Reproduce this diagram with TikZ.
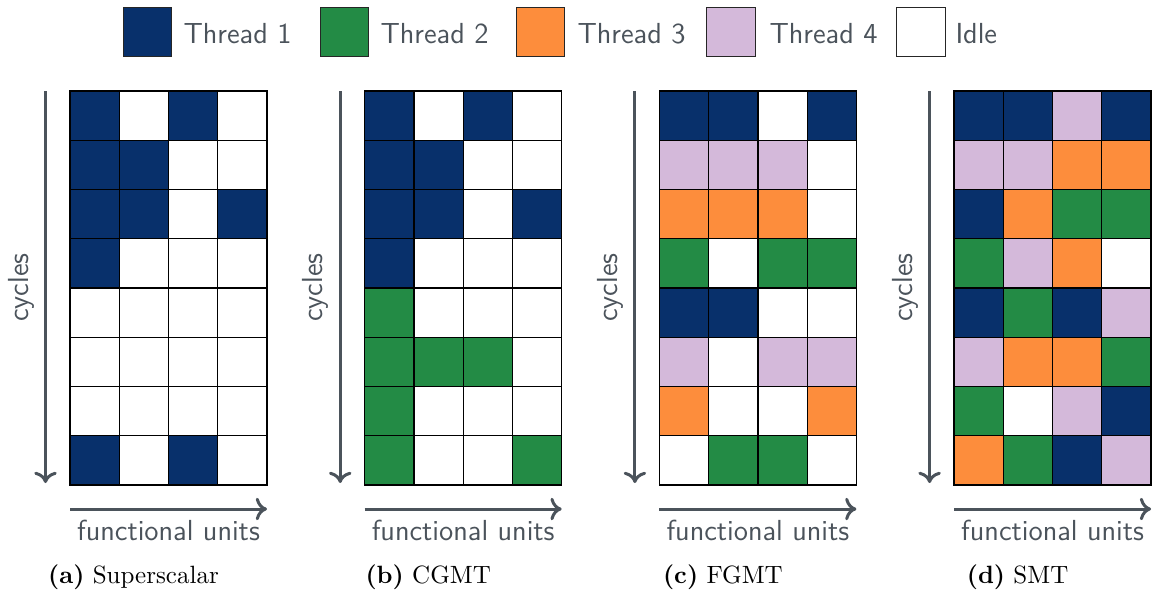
\documentclass[tikz,border=0pt]{standalone}
\usepackage{fontspec}
\usetikzlibrary{arrows.meta}

\definecolor{cB}{HTML}{08306B}
\definecolor{cG}{HTML}{238B45}
\definecolor{cO}{HTML}{FD8D3C}
\definecolor{cP}{HTML}{D4B9DA}
\definecolor{cW}{HTML}{FFFFFF}
\definecolor{axisgray}{HTML}{4B535B}

\tikzset{
  slot/.style={draw=black, line width=0.5pt},
  axisarrow/.style={draw=axisgray, line width=1.2pt, -{To[length=4.5pt,width=9pt]}},
  axislabel/.style={text=axisgray, inner sep=0pt, font=\fontsize{11.6}{14}\selectfont\sffamily},
  caplabel/.style={text=black, inner sep=0pt, font=\fontsize{10}{12}\selectfont\rmfamily},
  legsq/.style={draw=black!85, line width=0.5pt, minimum size=19.4pt, inner sep=0pt},
  legtxt/.style={text=axisgray, inner sep=0pt, anchor=base west, font=\fontsize{11.6}{14}\selectfont\sffamily},
}

% 4 x 8 issue-slot grid, cells given row by row
\newcommand\slotgrid[2]{%
  \foreach \c [count=\i from 0] in {#2} {
    \pgfmathtruncatemacro\col{mod(\i,4)}
    \pgfmathtruncatemacro\row{\i/4}
    \filldraw[slot, fill=\c] ({#1+\col*49.25},{91+\row*49.25}) rectangle ++(49.25,49.25);
  }
}

% one panel: grid, axes, axis labels and caption
\newcommand\schedpanel[5]{%
  \slotgrid{#1}{#5}
  \coordinate (#2-vtop) at ({#1-24.5}, 91);
  \coordinate (#2-vbot) at ({#1-24.5}, 483);
  \coordinate (#2-hl) at (#1, 509);
  \coordinate (#2-hr) at ({#1+197}, 509);
  \draw[axisarrow] (#2-vtop) -- (#2-vbot);
  \draw[axisarrow] (#2-hl) -- (#2-hr);
  \node[axislabel, rotate=90, anchor=base] (#2-cyc) at ({#1-42}, 287.5) {cycles};
  \node[axislabel, anchor=base] (#2-fu) at ({#1+98.5}, 540) {functional units};
  \node[caplabel, anchor=base] (#2-cap) at ({#1+63.5}, 583) {\textbf{(#3)} #4};
}

\begin{document}
\begin{tikzpicture}[x=0.4pt, y=-0.4pt]
\useasboundingbox (0,0) rectangle (1153,596);

% legend
\node[legsq, fill=cB] (sq1) at (147.5, 32) {};
\node[legtxt] (lt1) at (183, 43) {Thread 1};
\node[legsq, fill=cG] (sq2) at (344.5, 32) {};
\node[legtxt] (lt2) at (380, 43) {Thread 2};
\node[legsq, fill=cO] (sq3) at (540.5, 32) {};
\node[legtxt] (lt3) at (577, 43) {Thread 3};
\node[legsq, fill=cP] (sq4) at (731, 32) {};
\node[legtxt] (lt4) at (769, 43) {Thread 4};
\node[legsq, fill=cW] (sq5) at (921, 32) {};
\node[legtxt] (lt5) at (955, 43) {Idle};

% superscalar
\schedpanel{70}{ss}{a}{Superscalar}{
  cB,cW,cB,cW,
  cB,cB,cW,cW,
  cB,cB,cW,cB,
  cB,cW,cW,cW,
  cW,cW,cW,cW,
  cW,cW,cW,cW,
  cW,cW,cW,cW,
  cB,cW,cB,cW}

% coarse-grained multithreading
\schedpanel{364.7}{cg}{b}{CGMT}{
  cB,cW,cB,cW,
  cB,cB,cW,cW,
  cB,cB,cW,cB,
  cB,cW,cW,cW,
  cG,cW,cW,cW,
  cG,cG,cG,cW,
  cG,cW,cW,cW,
  cG,cW,cW,cG}

% fine-grained multithreading
\schedpanel{659.4}{fg}{c}{FGMT}{
  cB,cB,cW,cB,
  cP,cP,cP,cW,
  cO,cO,cO,cW,
  cG,cW,cG,cG,
  cB,cB,cW,cW,
  cP,cW,cP,cP,
  cO,cW,cW,cO,
  cW,cG,cG,cW}

% simultaneous multithreading
\schedpanel{954.1}{sm}{d}{SMT}{
  cB,cB,cP,cB,
  cP,cP,cO,cO,
  cB,cO,cG,cG,
  cG,cP,cO,cW,
  cB,cG,cB,cP,
  cP,cO,cO,cG,
  cG,cW,cP,cB,
  cO,cG,cB,cP}
\end{tikzpicture}
\end{document}
